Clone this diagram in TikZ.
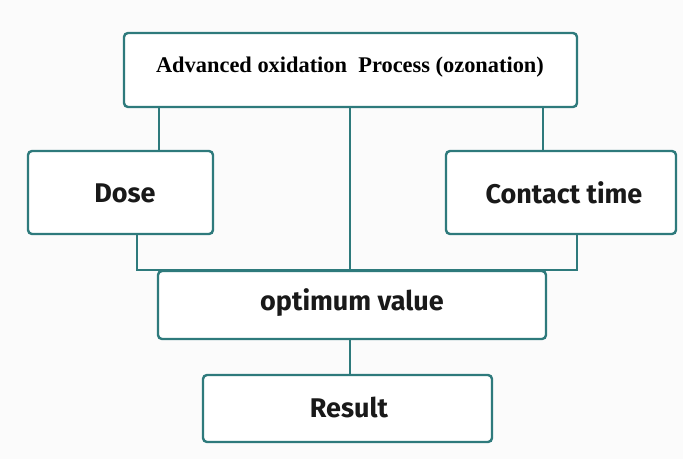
\documentclass[tikz,border=0pt]{standalone}
\usepackage{fontspec}
\setmainfont{Liberation Serif}
\newfontfamily\boxsans{Fira Sans}
\definecolor{teal1}{RGB}{46,122,124}
\definecolor{bgc}{RGB}{251,251,251}
\begin{document}
\begin{tikzpicture}[x=1pt,y=-1pt,
  box/.style={draw=teal1,line width=2.4pt,rounded corners=4pt,fill=white,inner sep=0pt},
  link/.style={draw=teal1,line width=2.4pt},
  lbl/.style={font=\boxsans\bfseries\fontsize{27}{29}\selectfont,text=black!90}]
\fill[bgc] (0,0) rectangle (683,459);
\useasboundingbox (0,0) rectangle (683,459);
\coordinate (xl) at (159,0);
\coordinate (xr) at (543,0);
\coordinate (xm) at (350,0);
\coordinate (xd) at (137,0);
\coordinate (xc) at (577,0);
\node[box,minimum width=453pt,minimum height=74pt] (top) at (350.5,70) {};
\node[box,minimum width=185pt,minimum height=83pt] (dose) at (120.5,192.5) {};
\node[box,minimum width=230pt,minimum height=83pt] (cont) at (561,192.5) {};
\node[box,minimum width=388pt,minimum height=68pt] (opt) at (352,305) {};
\node[box,minimum width=289pt,minimum height=67pt] (res) at (347.5,408.5) {};
\draw[link] (top.south -| xl) -- (dose.north -| xl);
\draw[link] (top.south -| xr) -- (cont.north -| xr);
\draw[link] (top.south -| xm) -- (opt.north -| xm);
\draw[link] (dose.south -| xd) |- (opt.north -| xc) -- (cont.south -| xc);
\draw[link] (opt.south -| xm) -- (res.north -| xm);
\node[font=\bfseries\fontsize{22.4}{24}\selectfont] (ttop) at (350,67) {Advanced oxidation\ \ Process (ozonation)};
\node[lbl] (tdose) at (125,193) {Dose};
\node[lbl] (tcont) at (564,193) {Contact time};
\node[lbl] (topt) at (352,303) {optimum value};
\node[lbl] (tres) at (349,407) {Result};
\end{tikzpicture}
\end{document}
